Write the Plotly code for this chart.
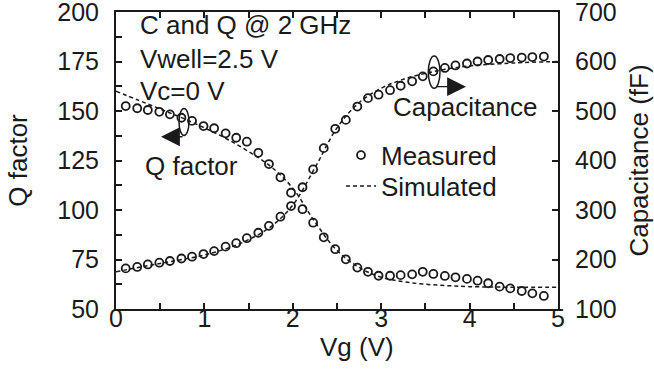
import plotly.graph_objects as go

# ---------------- data ----------------
vg_meas = [0.11, 0.24, 0.36, 0.49, 0.61, 0.74, 0.86, 0.99, 1.11, 1.24, 1.36, 1.48, 1.61,
           1.73, 1.86, 1.98, 2.11, 2.23, 2.35, 2.48, 2.60, 2.73, 2.85, 2.97, 3.10, 3.22,
           3.35, 3.47, 3.59, 3.72, 3.84, 3.97, 4.09, 4.21, 4.34, 4.46, 4.59, 4.71, 4.84]
q_meas = [152.5, 151.4, 150.5, 149.6, 148.3, 146.6, 145.0, 142.4, 141.3, 138.7, 136.5, 134.5, 128.9,
          123.2, 116.5, 108.7, 100.4, 93.6, 86.2, 80.2, 75.1, 70.9, 68.8, 66.8, 66.8, 67.1,
          67.5, 68.8, 67.7, 66.7, 66.0, 65.2, 64.3, 63.0, 61.3, 60.4, 59.1, 57.9, 56.6]
c_meas = [182, 185, 190, 193.5, 197, 202, 205.7, 211, 217, 226, 233, 243, 254,
          268, 286.5, 308, 346, 382, 425, 464, 482, 509, 526, 533, 542, 551,
          560, 570, 580, 587, 592, 596, 600, 603, 605, 607, 608, 609, 610]

vg_sim = [0, 0.25, 0.5, 0.75, 1.0, 1.25, 1.5, 1.75, 2.0, 2.25, 2.5, 2.75, 3.0, 3.25, 3.5,
          3.75, 4.0, 4.5, 5.0]
q_sim = [160, 155.5, 151, 146.5, 141.5, 136, 129.5, 122, 111, 94, 79.5, 71, 66, 63.8, 62.5,
         61.8, 61.3, 61, 61]
c_sim = [175, 184, 192, 200, 209, 222, 240, 266, 310, 385, 466, 517, 546, 564, 576,
         585, 591, 597, 600]

x_tickvals = [0, 0.5, 1, 1.5, 2, 2.5, 3, 3.5, 4, 4.5, 5]
x_ticktext = ["0", "", "1", "", "2", "", "3", "", "4", "", "5"]
q_tickvals = [50, 62.5, 75, 87.5, 100, 112.5, 125, 137.5, 150, 162.5, 175, 187.5, 200]
q_ticktext = ["50", "", "75", "", "100", "", "125", "", "150", "", "175", "", "200"]
c_tickvals = [100, 200, 300, 400, 500, 600, 700]
c_ticktext = ["100", "200", "300", "400", "500", "600", "700"]

# ---------------- style ----------------
FONT = "Liberation Sans, Arial, sans-serif"
INK = "#1a1a1a"
TICK_SIZE = 25
TEXT_SIZE = 26
DASH = "4px,3px"

fig = go.Figure()

marker_style = dict(symbol="circle-open", size=8, color=INK, line=dict(width=1.8, color=INK))

fig.add_trace(go.Scatter(x=vg_meas, y=q_meas, mode="markers", name="Measured",
                         marker=marker_style, showlegend=True, legend="legend"))
fig.add_trace(go.Scatter(x=vg_meas, y=c_meas, mode="markers", name="Measured",
                         marker=marker_style, showlegend=False, yaxis="y2"))
fig.add_trace(go.Scatter(x=vg_sim, y=q_sim, mode="lines", name="Simulated",
                         line=dict(color=INK, width=1.5, dash=DASH, shape="spline"),
                         showlegend=True, legend="legend2"))
fig.add_trace(go.Scatter(x=vg_sim, y=c_sim, mode="lines", name="Simulated",
                         line=dict(color=INK, width=1.5, dash=DASH, shape="spline"),
                         showlegend=False, yaxis="y2"))

axis_common = dict(showline=True, linewidth=2, linecolor=INK, ticks="inside", ticklen=6,
                   tickwidth=1.5, tickcolor=INK, showgrid=False, zeroline=False,
                   ticklabeloverflow="allow", automargin=False,
                   tickfont=dict(family=FONT, size=TICK_SIZE, color=INK))

legend_common = dict(xanchor="left", yanchor="top", bgcolor="rgba(0,0,0,0)",
                     font=dict(family=FONT, size=TEXT_SIZE, color=INK), itemwidth=30)

fig.update_layout(
    width=654, height=372,
    margin=dict(l=116, r=96, t=12, b=63, autoexpand=False),
    paper_bgcolor="white", plot_bgcolor="white",
    font=dict(family=FONT, size=TEXT_SIZE, color=INK),
    xaxis=dict(range=[0, 5], tickvals=x_tickvals, ticktext=x_ticktext, mirror="ticks",
               ticklabelstandoff=-14, **axis_common),
    yaxis=dict(range=[50, 200], tickvals=q_tickvals, ticktext=q_ticktext,
               ticklabelstandoff=10,
               title=dict(text="Q factor", font=dict(family=FONT, size=TEXT_SIZE, color=INK),
                          standoff=22),
               **axis_common),
    yaxis2=dict(range=[100, 700], tickvals=c_tickvals, ticktext=c_ticktext, overlaying="y",
                side="right", ticklabelstandoff=10,
                title=dict(text="Capacitance (fF)", font=dict(family=FONT, size=TEXT_SIZE, color=INK),
                           standoff=17),
                **axis_common),
    legend=dict(x=(341 - 116) / 442, y=0.597, **legend_common),
    legend2=dict(x=(341 - 116) / 442, y=0.4926, **legend_common),
    showlegend=True,
)

# x-axis title as annotation (slightly right of centre in the reference)
fig.add_annotation(text="Vg (V)", xref="paper", yref="paper", x=(357 - 116) / 442, y=0.0,
                   yshift=-38, showarrow=False, xanchor="center", yanchor="middle",
                   font=dict(family=FONT, size=TEXT_SIZE, color=INK))

# text labels
for txt, xv, yv, anchor in [
    ("C and Q @ 2 GHz", 0.25, 193.2, "left"),
    ("Vwell=2.5 V", 0.25, 176.3, "left"),
    ("Vc=0 V", 0.25, 160.1, "left"),
    ("Q factor", 0.31, 122.2, "left"),
    ("Capacitance", 4.80, 152.2, "right"),
]:
    fig.add_annotation(text=txt, x=xv, y=yv, xref="x", yref="y", showarrow=False,
                       xanchor=anchor, yanchor="middle",
                       font=dict(family=FONT, size=TEXT_SIZE, color=INK))

# ellipses marking which curve belongs to which axis
fig.add_shape(type="circle", xref="x", yref="y", x0=0.713, x1=0.826, y0=137.6, y1=151.3,
              line=dict(color=INK, width=1.5))
fig.add_shape(type="circle", xref="x", yref="y", x0=3.533, x1=3.665, y0=161.5, y1=177.8,
              line=dict(color=INK, width=1.5))

# arrows
fig.add_annotation(x=0.509, y=137.0, xref="x", yref="y", ax=23, ay=0, text="",
                   showarrow=True, arrowhead=2, arrowsize=2.9, arrowwidth=1.3, arrowcolor=INK,
                   standoff=0)
fig.add_annotation(x=3.959, y=162.3, xref="x", yref="y", ax=-31, ay=0, text="",
                   showarrow=True, arrowhead=2, arrowsize=2.9, arrowwidth=1.3, arrowcolor=INK,
                   standoff=0)

fig.write_html("out.html")
